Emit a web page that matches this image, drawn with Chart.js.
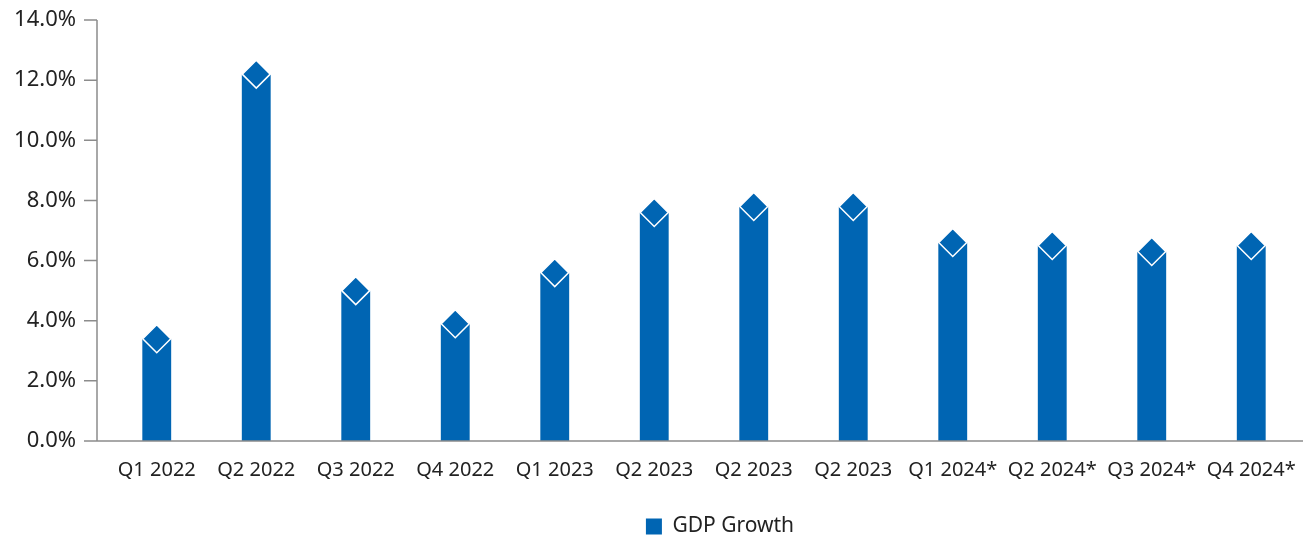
<!DOCTYPE html>
<html>
<head>
<meta charset="utf-8">
<script src="https://cdn.jsdelivr.net/npm/chart.js@4.4.1/dist/chart.umd.min.js"></script>
<style>
  html, body { margin: 0; padding: 0; background: #fff; }
  #wrap { width: 1305px; height: 535px; }
</style>
</head>
<body>
<div id="wrap"><canvas id="gdpChart" width="1305" height="535"></canvas></div>
<script>
const quarters = ['Q1 2022', 'Q2 2022', 'Q3 2022', 'Q4 2022', 'Q1 2023', 'Q2 2023', 'Q2 2023', 'Q2 2023', 'Q1 2024*', 'Q2 2024*', 'Q3 2024*', 'Q4 2024*'];
const gdpGrowth = [3.4, 12.2, 5.0, 3.9, 5.6, 7.6, 7.8, 7.8, 6.6, 6.5, 6.3, 6.5];
const yTicks = [0, 2, 4, 6, 8, 10, 12, 14];

const BLUE = '#0065B3';
const AXIS = '#8c8c8c';
const TEXT = '#222222';
const FONT = "'Noto Sans', sans-serif";

// axis line sits a little left of the first category, like the original
const axisLines = {
  id: 'axisLines',
  afterLayout(chart) {
    // nudge legend a bit right/down to where the original has it
    const lg = chart.legend;
    lg.left += 16; lg.right += 16;
    lg.top += 12; lg.bottom += 12;
  },
  afterDraw(chart) {
    const { ctx, chartArea, scales } = chart;
    const x0 = chartArea.left - 10;
    ctx.save();
    ctx.strokeStyle = AXIS;
    ctx.lineWidth = 1.5;
    ctx.beginPath();
    ctx.moveTo(x0, chartArea.top);
    ctx.lineTo(x0, chartArea.bottom);
    ctx.moveTo(x0, chartArea.bottom);
    ctx.lineTo(chartArea.right + 2, chartArea.bottom);
    yTicks.forEach(v => {
      const y = scales.y.getPixelForValue(v);
      ctx.moveTo(x0 - 13, y);
      ctx.lineTo(x0, y);
    });
    ctx.stroke();
    ctx.restore();
  }
};

new Chart(document.getElementById('gdpChart'), {
  type: 'bar',
  data: {
    labels: quarters,
    datasets: [
      {
        type: 'line',
        label: 'marker',
        data: gdpGrowth,
        showLine: false,
        pointStyle: 'rectRot',
        pointRadius: 14,
        pointBackgroundColor: BLUE,
        pointBorderColor: '#ffffff',
        pointBorderWidth: 1.5,
        clip: false,
        order: 0
      },
      {
        label: 'GDP Growth',
        data: gdpGrowth,
        backgroundColor: BLUE,
        borderWidth: 0,
        categoryPercentage: 1,
        barPercentage: 0.29,
        order: 1
      }
    ]
  },
  plugins: [axisLines],
  options: {
    responsive: false,
    animation: false,
    layout: { autoPadding: false, padding: { top: 20, right: 4, bottom: 0, left: 0 } },
    plugins: {
      tooltip: { enabled: false },
      legend: {
        position: 'bottom',
        fullSize: false,
        labels: {
          filter: item => item.text === 'GDP Growth',
          boxWidth: 16,
          boxHeight: 16,
          padding: 0,
          color: TEXT,
          font: { family: FONT, size: 21 }
        }
      }
    },
    scales: {
      x: {
        afterFit(scale) {
          scale.height = 63;
          scale.paddingLeft = 0;
          scale.paddingRight = 0;
        },
        grid: { display: false, drawTicks: false },
        border: { display: false },
        ticks: {
          color: TEXT,
          padding: 17,
          maxRotation: 0,
          autoSkip: false,
          font: { family: FONT, size: 20 }
        }
      },
      y: {
        min: 0,
        max: 14,
        afterFit(scale) {
          scale.width = 107;
          scale.paddingTop = 0;
          scale.paddingBottom = 0;
        },
        afterBuildTicks(scale) { scale.ticks = yTicks.map(v => ({ value: v })); },
        grid: { display: false, drawTicks: false },
        border: { display: false },
        ticks: {
          color: TEXT,
          padding: 31,
          font: { family: FONT, size: 22 },
          callback: v => v.toFixed(1) + '%'
        }
      }
    }
  }
});
</script>
</body>
</html>
